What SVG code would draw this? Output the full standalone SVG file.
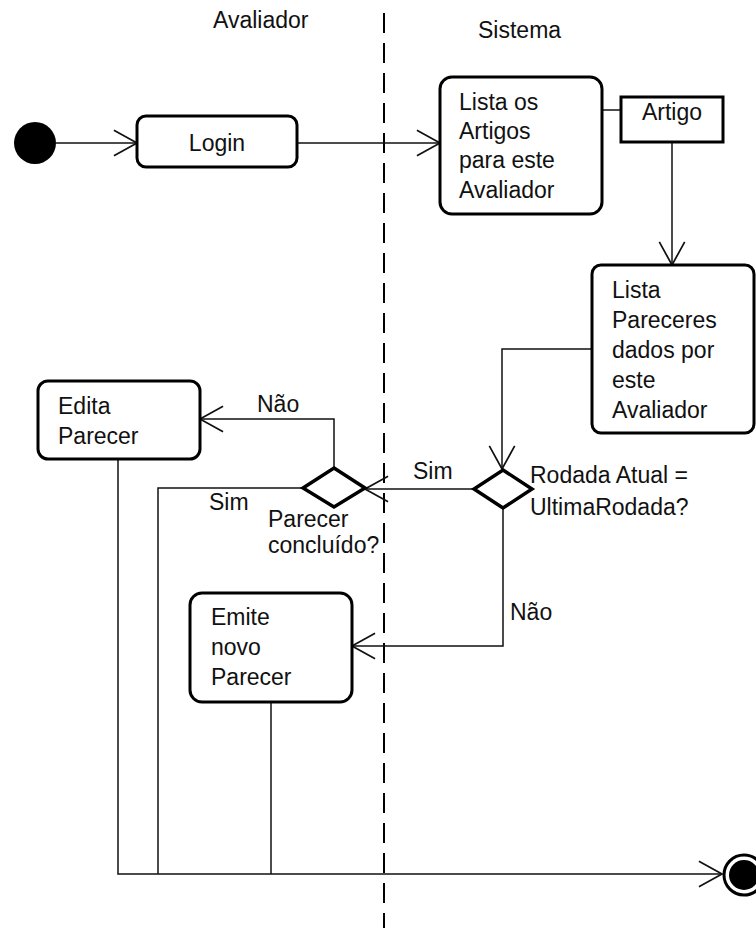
<svg xmlns="http://www.w3.org/2000/svg" width="756" height="928" viewBox="0 0 756 928">
<style>
text{font-family:"Liberation Sans",Arial,sans-serif;font-size:23px;fill:#111}
.box{fill:#fff;stroke:#000;stroke-width:3}
.conn{fill:none;stroke:#111;stroke-width:1.5}
.lane{fill:none;stroke:#000;stroke-width:2;stroke-dasharray:20 10}
</style>
<defs>
<marker id="arr" markerUnits="userSpaceOnUse" markerWidth="30" markerHeight="30" viewBox="-22 -13 24 26" refX="0" refY="0" orient="auto" overflow="visible">
<path d="M-20,-11 L0,0 L-20,11" fill="none" stroke="#111" stroke-width="1.5"/>
</marker>
</defs>
<rect width="756" height="928" fill="#fff"/>
<g id="lanes">
<line class="lane" x1="384" y1="13" x2="384" y2="928"/>
<text x="213" y="28">Avaliador</text>
<text x="478" y="38">Sistema</text>
</g>
<g id="connectors">
<line class="conn" x1="56" y1="143" x2="137" y2="143" marker-end="url(#arr)"/>
<line class="conn" x1="297" y1="143" x2="440" y2="143" marker-end="url(#arr)"/>
<line class="conn" x1="602" y1="110" x2="621" y2="110"/>
<line class="conn" x1="672" y1="143" x2="672" y2="265" marker-end="url(#arr)"/>
<polyline class="conn" points="592,349 502,349 502,469" marker-end="url(#arr)"/>
<line class="conn" x1="474" y1="489" x2="365" y2="489" marker-end="url(#arr)"/>
<text x="413" y="479">Sim</text>
<polyline class="conn" points="503,508 503,646 352,646" marker-end="url(#arr)"/>
<text x="510" y="620">Não</text>
<polyline class="conn" points="334,468 334,419 200,419" marker-end="url(#arr)"/>
<text x="257" y="412">Não</text>
<polyline class="conn" points="303,488 158,488 158,874"/>
<text x="209" y="510">Sim</text>
<polyline class="conn" points="118,459 118,874 722,874" marker-end="url(#arr)"/>
<line class="conn" x1="271" y1="702" x2="271" y2="874"/>
</g>
<g id="start"><circle cx="35" cy="143" r="21" fill="#000"/></g>
<g id="login">
<rect class="box" x="137" y="116" width="160" height="51" rx="9"/>
<text x="217" y="151" text-anchor="middle">Login</text>
</g>
<g id="listaArtigos">
<rect class="box" x="440" y="77" width="162" height="137" rx="12"/>
<text x="459" y="110">Lista os</text>
<text x="459" y="139">Artigos</text>
<text x="459" y="168">para este</text>
<text x="459" y="198">Avaliador</text>
</g>
<g id="artigo">
<rect x="621" y="97" width="102" height="45" fill="#fff" stroke="#000" stroke-width="3"/>
<text x="672" y="120" text-anchor="middle">Artigo</text>
</g>
<g id="listaPareceres">
<rect class="box" x="592" y="265" width="162" height="168" rx="9"/>
<text x="612" y="298">Lista</text>
<text x="612" y="328">Pareceres</text>
<text x="612" y="358">dados por</text>
<text x="612" y="388">este</text>
<text x="612" y="418">Avaliador</text>
</g>
<g id="decisaoRodada">
<polygon points="503,470 532,489 503,508 474,489" fill="#fff" stroke="#000" stroke-width="3.5"/>
<text x="530" y="483">Rodada Atual =</text>
<text x="530" y="515">UltimaRodada?</text>
</g>
<g id="decisaoParecer">
<polygon points="334,468 365,488 334,507 303,488" fill="#fff" stroke="#000" stroke-width="3.5"/>
<text x="268" y="527">Parecer</text>
<text x="268" y="553">concluído?</text>
</g>
<g id="editaParecer">
<rect class="box" x="38" y="381" width="162" height="78" rx="10"/>
<text x="58" y="414">Edita</text>
<text x="58" y="444">Parecer</text>
</g>
<g id="emiteParecer">
<rect class="box" x="190" y="593" width="162" height="109" rx="12"/>
<text x="211" y="625">Emite</text>
<text x="211" y="655">novo</text>
<text x="211" y="685">Parecer</text>
</g>
<g id="end">
<circle cx="744" cy="875" r="20" fill="#fff" stroke="#000" stroke-width="3"/>
<circle cx="744" cy="875" r="15" fill="#000"/>
</g>
</svg>
